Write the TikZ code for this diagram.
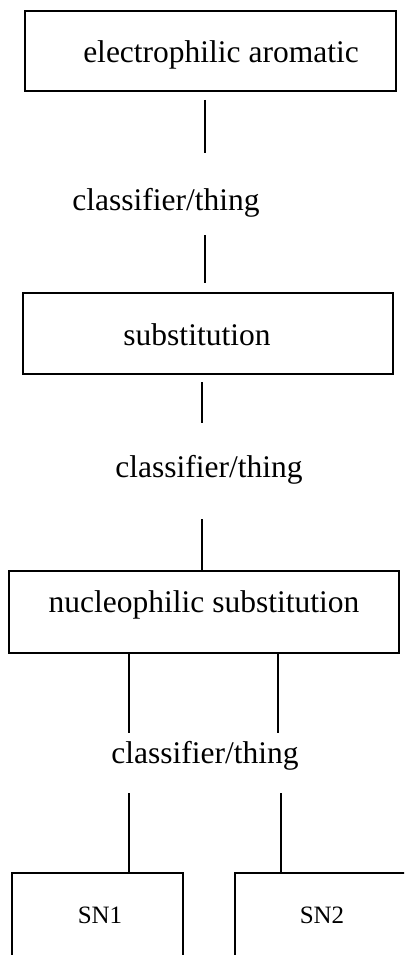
\documentclass[tikz,border=0pt]{standalone}
\usepackage{fontspec}
\setmainfont{Liberation Serif}
\begin{document}
\begin{tikzpicture}[x=1pt,y=-1pt,
  boxstyle/.style={draw=black,line width=1.7pt,inner sep=0pt,rectangle},
  bigtext/.style={font=\fontsize{31.5}{36}\selectfont,inner sep=0pt,anchor=base},
  smalltext/.style={font=\fontsize{25}{30}\selectfont,inner sep=0pt,anchor=base},
  conn/.style={draw=black,line width=2.3pt}]
\useasboundingbox (0,0) rectangle (404,955);
\begin{scope}
\clip (0,0) rectangle (404,955);
% boxes
\node[boxstyle,minimum width=371pt,minimum height=80pt] (b1) at (210.5,51) {};
\node[boxstyle,minimum width=370pt,minimum height=81pt] (b2) at (208,333.5) {};
\node[boxstyle,minimum width=390pt,minimum height=82pt] (b3) at (204,612) {};
\node[boxstyle,minimum width=171pt,minimum height=200pt] (b4) at (97.5,973) {};
\node[boxstyle,minimum width=215pt,minimum height=200pt] (b5) at (342.5,973) {};
\end{scope}
% texts
\node[bigtext] (t1) at (221,63) {electrophilic aromatic};
\node[bigtext] (t2) at (197,345) {substitution};
\node[bigtext] (t3) at (204,612) {nucleophilic substitution};
\node[smalltext] (t4) at (100,923) {SN1};
\node[smalltext] (t5) at (322,923) {SN2};
% labels
\node[bigtext] (l1) at (166,210.5) {classifier/thing};
\node[bigtext] (l2) at (209,477) {classifier/thing};
\node[bigtext] (l3) at (205,763) {classifier/thing};
% connector end points
\coordinate (c1a) at (205,100); \coordinate (c1b) at (205,153);
\coordinate (c2a) at (205,235); \coordinate (c2b) at (205,283);
\coordinate (c3a) at (202,382); \coordinate (c3b) at (202,423);
\coordinate (c4a) at (202,519); \coordinate (c4b) at (202,570);
\coordinate (c5a) at (129,654); \coordinate (c5b) at (129,733);
\coordinate (c6a) at (278,654); \coordinate (c6b) at (278,733);
\coordinate (c7a) at (129,793); \coordinate (c7b) at (129,873);
\coordinate (c8a) at (281,793); \coordinate (c8b) at (281,873);
\draw[conn] (c1a) -- (c1b);
\draw[conn] (c2a) -- (c2b);
\draw[conn] (c3a) -- (c3b);
\draw[conn] (c4a) -- (c4b);
\draw[conn] (c5a) -- (c5b);
\draw[conn] (c6a) -- (c6b);
\draw[conn] (c7a) -- (c7b);
\draw[conn] (c8a) -- (c8b);
\end{tikzpicture}
\end{document}
